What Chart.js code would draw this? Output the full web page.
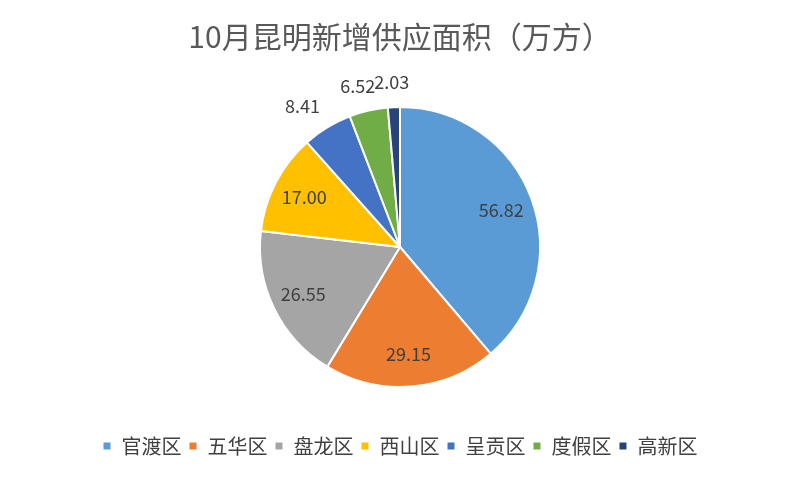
<!DOCTYPE html>
<html><head><meta charset="utf-8">
<script src="https://cdn.jsdelivr.net/npm/chart.js@4/dist/chart.umd.min.js"></script>
<style>html,body{margin:0;padding:0;background:#fff}#wrap{width:800px;height:480px}</style>
</head><body><div id="wrap"><canvas id="c" width="800" height="480"></canvas></div>
<script>
const categories = ['官渡区','五华区','盘龙区','西山区','呈贡区','度假区','高新区'];
const values = [56.82, 29.15, 26.55, 17.00, 8.41, 6.52, 2.03];
const valueLabels = ['56.82','29.15','26.55','17.00','8.41','6.52','2.03'];
const colors = ['#5B9BD5','#ED7D31','#A5A5A5','#FFC000','#4472C4','#70AD47','#264478'];
const titleText = '10月昆明新增供应面积（万方）';
const FONT = '"Noto Sans CJK SC","Noto Sans",sans-serif';

const labelPlugin = {
  id: 'sliceLabels',
  afterDatasetsDraw(chart) {
    const ctx = chart.ctx;
    const meta = chart.getDatasetMeta(0);
    ctx.save();
    ctx.font = '18px ' + FONT;
    ctx.fillStyle = '#404040';
    ctx.textAlign = 'center';
    ctx.textBaseline = 'middle';
    meta.data.forEach((arc, i) => {
      const p = arc.getProps(['x','y','startAngle','endAngle','outerRadius'], true);
      const mid = (p.startAngle + p.endAngle) / 2;
      const dx = Math.cos(mid), dy = Math.sin(mid);
      const txt = valueLabels[i];
      let x, y;
      if (values[i] >= 10) {
        const r = p.outerRadius * 0.77;
        x = p.x + dx * r; y = p.y + dy * r;
      } else {
        const w = ctx.measureText(txt).width;
        const r = p.outerRadius + 16;
        x = p.x + dx * r + dx * w * 0.9;
        y = p.y + dy * r + dy * 9;
      }
      ctx.fillText(txt, x, y);
    });
    ctx.restore();
  }
};

new Chart(document.getElementById('c'), {
  type: 'pie',
  data: {
    labels: categories,
    datasets: [{
      data: values,
      backgroundColor: colors,
      borderColor: '#ffffff',
      borderWidth: 2
    }]
  },
  options: {
    responsive: false,
    animation: false,
    radius: 140,
    layout: { padding: { bottom: 14 } },
    plugins: {
      tooltip: { enabled: false },
      title: {
        display: true,
        text: titleText,
        color: '#595959',
        font: { family: FONT, size: 30, weight: 'normal' },
        padding: { top: 19, bottom: 10 }
      },
      legend: {
        position: 'bottom',
        labels: {
          color: '#404040',
          font: { family: FONT, size: 20 },
          boxWidth: 9,
          boxHeight: 9,
          padding: 7
        }
      }
    }
  },
  plugins: [labelPlugin]
});
</script></body></html>
